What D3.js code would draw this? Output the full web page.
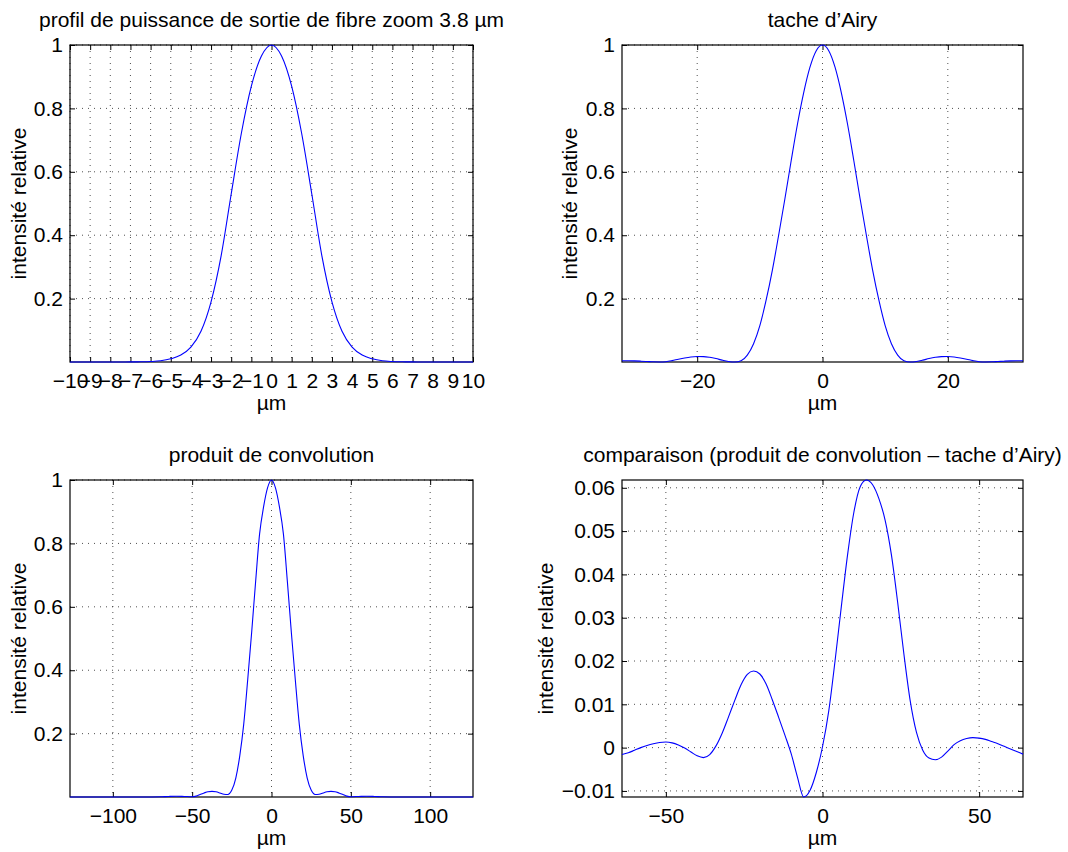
<!DOCTYPE html>
<html><head><meta charset="utf-8">
<script src="https://cdn.jsdelivr.net/npm/d3@7"></script>
<style>body{margin:0;background:#fff} svg{display:block}</style>
</head><body><svg id="c" width="1068" height="852"></svg>
<script>
// ---------- data ----------
const fibreX = [-10,-9,-8,-7.5,-7,-6.5,-6,-5.5,-5,-4.5,-4,-3.5,-3,-2.5,-2,-1.5,-1,-0.5,0,0.5,1,1.5,2,2.5,3,3.5,4,4.5,5,5.5,6,6.5,7,7.5,8,9,10];
const fibreY = [0.00005,0.00005,0.00008,0.00015,0.0003,0.0007,0.0016,0.0038,0.010,0.022,0.047,0.097,0.19,0.335,0.53,0.72,0.87,0.965,1,0.965,0.87,0.72,0.53,0.335,0.19,0.097,0.047,0.022,0.010,0.0038,0.0016,0.0007,0.0003,0.00015,0.00008,0.00005,0.00005];

const airyX = [-32,-31,-30,-29,-28,-27,-26,-25,-24,-23,-22,-21,-20,-19,-18,-17,-16,-15,-14,-13,-12,-11,-10,-9,-8,-7,-6,-5,-4,-3,-2,-1,0,1,2,3,4,5,6,7,8,9,10,11,12,13,14,15,16,17,18,19,20,21,22,23,24,25,26,27,28,29,30,31,32];
const airyY = [0.0040,0.0040,0.0036,0.0028,0.0018,0.0008,0.0003,0.0012,0.0045,0.009,0.013,0.016,0.0175,0.0173,0.015,0.011,0.006,0.002,0.0002,0.004,0.022,0.058,0.115,0.195,0.29,0.40,0.515,0.635,0.75,0.85,0.93,0.982,1,0.982,0.93,0.85,0.75,0.635,0.515,0.40,0.29,0.195,0.115,0.058,0.022,0.004,0.0002,0.002,0.006,0.011,0.015,0.0173,0.0175,0.016,0.013,0.009,0.0045,0.0012,0.0003,0.0008,0.0018,0.0028,0.0036,0.0040,0.0040];

const convX = [-127,-110,-95,-80,-75,-70,-65,-60,-55,-50,-47.5,-45,-42.5,-40,-37.5,-35,-32.5,-30,-27.5,-25,-22.5,-20,-17.5,-15,-12.5,-10,-7.5,-5,-2.5,0,2.5,5,7.5,10,12.5,15,17.5,20,22.5,25,27.5,30,32.5,35,37.5,40,42.5,45,47.5,50,55,60,65,70,75,80,95,110,127];
const convY = [0.0002,0.0002,0.0002,0.0002,0.0003,0.0008,0.002,0.0028,0.002,0.001,0.003,0.008,0.013,0.017,0.018,0.0165,0.013,0.009,0.008,0.022,0.06,0.13,0.23,0.37,0.52,0.68,0.83,0.915,0.975,1,0.975,0.915,0.83,0.68,0.52,0.37,0.23,0.13,0.06,0.022,0.008,0.009,0.013,0.0165,0.018,0.017,0.013,0.008,0.003,0.001,0.002,0.0028,0.002,0.0008,0.0003,0.0002,0.0002,0.0002,0.0002];

const diffX = [-64,-62,-60,-58,-56,-54,-52,-50,-48,-46,-44,-42,-40,-38,-36,-34,-32,-30,-28,-26,-24,-22,-20,-18,-16,-14,-12,-10,-8,-6,-4,-2,0,2,4,6,8,10,12,14,16,18,20,22,24,26,28,30,32,34,36,38,40,42,44,46,48,50,52,54,56,58,60,62,64];
const diffY = [-0.0016,-0.0012,-0.0006,0.0000,0.0005,0.0009,0.0012,0.0013,0.0011,0.0006,-0.0001,-0.0010,-0.0019,-0.0023,-0.0016,0.0004,0.0034,0.0071,0.0109,0.0145,0.0169,0.0177,0.0170,0.0147,0.0110,0.0070,0.0029,-0.0014,-0.0068,-0.0114,-0.0099,-0.0058,0.0002,0.0085,0.0200,0.0325,0.0445,0.0543,0.0602,0.0618,0.0607,0.0575,0.0525,0.0445,0.0335,0.0215,0.0108,0.0035,-0.0006,-0.0024,-0.0028,-0.0022,-0.0008,0.0007,0.0016,0.0021,0.0023,0.0022,0.0019,0.0014,0.0009,0.0003,-0.0003,-0.0009,-0.0015];

const fibreTicksX = [-10,-9,-8,-7,-6,-5,-4,-3,-2,-1,0,1,2,3,4,5,6,7,8,9,10];
const airyTicksX = [-20,0,20];
const convTicksX = [-100,-50,0,50,100];
const diffTicksX = [-50,0,50];
const intensTicksY = [0.2,0.4,0.6,0.8,1];
const diffTicksY = [-0.01,0,0.01,0.02,0.03,0.04,0.05,0.06];

const titles = ["profil de puissance de sortie de fibre zoom 3.8 \u00b5m", "tache d\u2019Airy", "produit de convolution", "comparaison (produit de convolution \u2013 tache d\u2019Airy)"];
const xLabel = "\u00b5m";
const yLabel = "intensit\u00e9 relative";

// ---------- drawing ----------
const svg = d3.select("#c");
const FONT = "'Liberation Sans', Arial, Helvetica, sans-serif";
const FS = 21;

function drawPanel(o) {
  const x = d3.scaleLinear().domain(d3.extent(o.xs)).range([o.left, o.right]);
  const y = d3.scaleLinear().domain(d3.extent(o.ys)).range([o.bottom, o.top]);
  const g = svg.append("g");

  // grid
  g.append("g").selectAll("line").data(o.xTicks).join("line")
    .attr("x1", d => x(d)).attr("x2", d => x(d)).attr("y1", o.top).attr("y2", o.bottom)
    .attr("stroke", "#222").attr("stroke-width", 0.8).attr("stroke-dasharray", "1,5");
  g.append("g").selectAll("line").data(o.yTicks).join("line")
    .attr("y1", d => y(d)).attr("y2", d => y(d)).attr("x1", o.left).attr("x2", o.right)
    .attr("stroke", "#222").attr("stroke-width", 0.8).attr("stroke-dasharray", "1,5");

  // axes
  const ab = g.append("g").attr("transform", `translate(0,${o.bottom})`)
    .call(d3.axisBottom(x).tickValues(o.xTicks).tickSizeInner(-5).tickSizeOuter(0).tickPadding(11).tickFormat(o.xFmt));
  const at = g.append("g").attr("transform", `translate(0,${o.top})`)
    .call(d3.axisTop(x).tickValues(o.xTicks).tickSizeInner(-5).tickSizeOuter(0).tickFormat(""));
  const al = g.append("g").attr("transform", `translate(${o.left},0)`)
    .call(d3.axisLeft(y).tickValues(o.yTicks).tickSizeInner(-5).tickSizeOuter(0).tickPadding(7).tickFormat(o.yFmt));
  const ar = g.append("g").attr("transform", `translate(${o.right},0)`)
    .call(d3.axisRight(y).tickValues(o.yTicks).tickSizeInner(-5).tickSizeOuter(0).tickFormat(""));
  [ab, at, al, ar].forEach(a => {
    a.attr("font-size", FS).attr("font-family", FONT);
    a.select(".domain").remove();
    a.selectAll(".tick line").attr("stroke", "#000").attr("stroke-width", 1);
    a.selectAll(".tick text").attr("fill", "#000");
  });

  // box
  g.append("rect").attr("x", o.left).attr("y", o.top)
    .attr("width", o.right - o.left).attr("height", o.bottom - o.top)
    .attr("fill", "none").attr("stroke", "#000").attr("stroke-width", 1.2);

  // line
  const pts = o.xs.map((v, i) => [v, o.ys[i]]);
  g.append("path").datum(pts)
    .attr("d", d3.line().x(d => x(d[0])).y(d => y(d[1])).curve(d3.curveMonotoneX))
    .attr("fill", "none").attr("stroke", "#0000ff").attr("stroke-width", 1.1);

  // labels
  const cx = (o.left + o.right) / 2;
  g.append("text").attr("x", cx).attr("y", o.top - 18).attr("text-anchor", "middle")
    .attr("font-size", FS).attr("font-family", FONT).text(o.title);
  g.append("text").attr("x", cx).attr("y", o.bottom + 48).attr("text-anchor", "middle")
    .attr("font-size", FS).attr("font-family", FONT).text(xLabel);
  g.append("text").attr("transform", `translate(${o.ylx},${(o.top + o.bottom) / 2}) rotate(-90)`)
    .attr("text-anchor", "middle").attr("font-size", FS).attr("font-family", FONT).text(yLabel);
}

const fmtInt = d3.format("d");
const fmtY = d => d3.format("~g")(d);

drawPanel({left: 70, right: 473, top: 45, bottom: 362, xs: fibreX, ys: fibreY,
  xTicks: fibreTicksX, yTicks: intensTicksY, xFmt: fmtInt, yFmt: fmtY, title: titles[0], ylx: 26});
drawPanel({left: 622, right: 1023, top: 45, bottom: 362, xs: airyX, ys: airyY,
  xTicks: airyTicksX, yTicks: intensTicksY, xFmt: fmtInt, yFmt: fmtY, title: titles[1], ylx: 577});
drawPanel({left: 70, right: 473, top: 480, bottom: 797, xs: convX, ys: convY,
  xTicks: convTicksX, yTicks: intensTicksY, xFmt: fmtInt, yFmt: fmtY, title: titles[2], ylx: 26});
drawPanel({left: 622, right: 1023, top: 480, bottom: 797, xs: diffX, ys: diffY,
  xTicks: diffTicksX, yTicks: diffTicksY, xFmt: fmtInt, yFmt: fmtY, title: titles[3], ylx: 553});
</script></body></html>
